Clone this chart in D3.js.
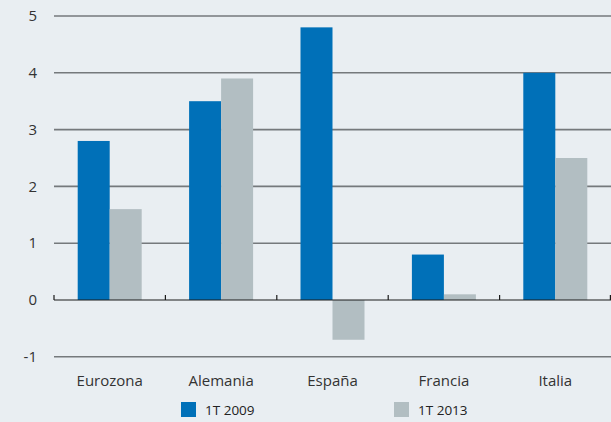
<!DOCTYPE html>
<html>
<head>
<meta charset="utf-8">
<script src="https://cdn.jsdelivr.net/npm/d3@7"></script>
<style>
  html, body { margin: 0; padding: 0; background: #e9eef2; }
  svg { display: block; font-family: "Open Sans", "Noto Sans", sans-serif; }
</style>
</head>
<body>
<svg id="chart" width="611" height="422"></svg>
<script>
const categories = ['Eurozona', 'Alemania', 'España', 'Francia', 'Italia'];
const seriesNames = ['1T 2009', '1T 2013'];
const values2009 = [2.8, 3.5, 4.8, 0.8, 4.0];
const values2013 = [1.6, 3.9, -0.7, 0.1, 2.5];
const yTicks = [-1, 0, 1, 2, 3, 4, 5];
const colors = ['#0070b8', '#b2bec2'];

(function () {
  const W = 611, H = 422;
  const plotLeft = 54, plotRight = 611, plotTop = 16, plotBottom = 356.8;

  const svg = d3.select('#chart');
  svg.append('rect').attr('width', W).attr('height', H).attr('fill', '#e9eef2');

  const y = d3.scaleLinear().domain([-1, 5]).range([plotBottom, plotTop]);
  const x0 = d3.scaleBand().domain(categories).range([plotLeft, plotRight]).padding(0);
  const x1 = d3.scaleBand().domain(seriesNames)
    .range([x0.bandwidth() / 2 - 32, x0.bandwidth() / 2 + 32]).padding(0);

  // gridlines
  svg.append('g')
    .selectAll('line')
    .data(yTicks.filter(d => d !== 0))
    .join('line')
    .attr('x1', plotLeft).attr('x2', plotRight)
    .attr('y1', d => y(d)).attr('y2', d => y(d))
    .attr('stroke', '#75797c').attr('stroke-width', 1.6);

  // y labels
  svg.append('g')
    .selectAll('text')
    .data(yTicks)
    .join('text')
    .attr('x', 37).attr('y', d => y(d))
    .attr('dy', '0.35em')
    .attr('text-anchor', 'end')
    .attr('fill', '#333')
    .attr('font-size', 15)
    .text(d => d);

  // bars
  const rows = categories.map((c, i) => ({ cat: c, vals: [values2009[i], values2013[i]] }));
  const groups = svg.append('g')
    .selectAll('g')
    .data(rows)
    .join('g')
    .attr('transform', d => `translate(${x0(d.cat)},0)`);

  groups.selectAll('rect')
    .data(d => d.vals.map((v, j) => ({ key: seriesNames[j], v, j })))
    .join('rect')
    .attr('x', d => x1(d.key))
    .attr('width', x1.bandwidth())
    .attr('y', d => y(Math.max(0, d.v)))
    .attr('height', d => Math.abs(y(d.v) - y(0)))
    .attr('fill', d => colors[d.j]);

  // zero axis with ticks at band boundaries
  svg.append('line')
    .attr('x1', plotLeft).attr('x2', plotRight)
    .attr('y1', y(0)).attr('y2', y(0))
    .attr('stroke', '#1a1a1a').attr('stroke-width', 1.2);
  const bounds = categories.map(c => x0(c)).concat([plotRight - 0.6]);
  svg.append('g')
    .selectAll('line')
    .data(bounds)
    .join('line')
    .attr('x1', d => d).attr('x2', d => d)
    .attr('y1', y(0) - 5).attr('y2', y(0))
    .attr('stroke', '#1a1a1a').attr('stroke-width', 1.2);

  // category labels
  const axis = d3.axisBottom(x0).tickSize(0).tickPadding(0);
  svg.append('g')
    .attr('transform', `translate(0,${plotBottom + 29})`)
    .call(axis)
    .call(g => g.select('.domain').remove())
    .selectAll('.tick text')
    .attr('fill', '#333')
    .attr('font-size', 15)
    .attr('font-family', '"Open Sans", "Noto Sans", sans-serif')
    .attr('dy', 0);

  // legend
  const legendX = [181, 394];
  const legend = svg.append('g')
    .selectAll('g')
    .data(seriesNames)
    .join('g')
    .attr('transform', (d, i) => `translate(${legendX[i]},402)`);
  legend.append('rect')
    .attr('width', 15).attr('height', 15)
    .attr('fill', (d, i) => colors[i]);
  legend.append('text')
    .attr('x', 24).attr('y', 13)
    .attr('font-size', 13.5)
    .attr('fill', '#222')
    .text(d => d);
})();
</script>
</body>
</html>
